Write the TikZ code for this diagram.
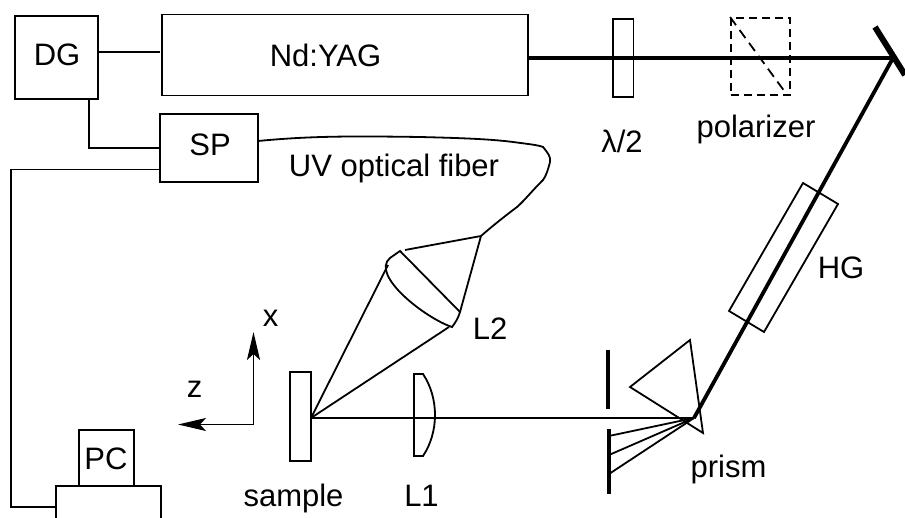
\documentclass[tikz,border=0pt]{standalone}
\usepackage{fontspec}
\setmainfont{Liberation Sans}
\usetikzlibrary{arrows.meta}
\tikzset{
	thinline/.style={line width=1.8pt},
	beam/.style={line width=3.8pt},
	optbox/.style={draw, line width=1.8pt, inner sep=0pt},
	label/.style={inner sep=0pt, anchor=base}
}
\begin{document}
\begin{tikzpicture}[x=1pt, y=-1pt, every node/.append style={font=\fontsize{31}{36}\selectfont}]
	\path[use as bounding box, clip] (0,0) rectangle (905,518);
	\node[optbox, minimum width=83pt, minimum height=83pt] (DG) at (56.5,57.5) {};
	\node[optbox, minimum width=366pt, minimum height=81pt] (YAG) at (345,55) {};
	\node[optbox, minimum width=98pt, minimum height=68pt] (SP) at (209,148) {};
	\node[optbox, minimum width=55pt, minimum height=56pt] (PC) at (106.5,458) {};
	\node[optbox, minimum width=105pt, minimum height=60pt] (PCbase) at (108.5,516) {};
	\node[optbox, minimum width=20.5pt, minimum height=78pt] (WP) at (623.2,58) {};
	\node[optbox, dashed, dash pattern=on 8pt off 5pt, minimum width=59pt, minimum height=77pt] (POL) at (760.5,56.5) {};
	\node[optbox, minimum width=21pt, minimum height=89pt] (SAMPLE) at (300.5,416.5) {};
	\coordinate (F) at (481,236);
	\coordinate (M) at (893,58);
	\coordinate (P) at (694,418);
	\coordinate (S) at (311,418);
	\coordinate (X) at (253.5,332);
	\coordinate (Z) at (178,424.5);
	\coordinate (O) at (253.5,424.5);
	\draw[thinline] (DG.east |- 0,52) -- (160,52);
	\draw[thinline] (89,99) |- (SP.west);
	\draw[thinline] (SP.west |- 0,169.5) -| (11,507) -- (PCbase.west |- 0,507);
	\draw[beam] (YAG.east |- M) -- (M);
	\draw[line width=6pt] (875,27) -- (905,75);
	\draw[beam] (M) -- (P);
	\draw[thinline] (803,183) -- (838,204) -- (764,332) -- (729,311) -- cycle;
	\draw[thinline, dashed, dash pattern=on 10pt off 6pt] (POL.north west) -- (785,92);
	\draw[thinline] (P) -- (S);
	\draw[thinline] (S) -- (388,265);
	\draw[thinline] (S) -- (449,327);
	\draw[thinline] (405,250) -- (F) -- (460,312);
	\draw[thinline] (414,374) -- (423,374) .. controls (439,398) and (439,432) .. (423,456) -- (414,456) -- cycle;
	\draw[thinline] (400,251) -- (460,312) .. controls (458,319) and (455,323) .. (452,327) .. controls (425,318) and (370,275) .. (390,258) -- cycle;
	\draw[thinline] (258,141) .. controls (310,136) and (350,136) .. (420,137) .. controls (460,138) and (490,139) .. (513,142) .. controls (528,144) and (538,145) .. (543,147) .. controls (548,153) and (551,157) .. (550,162) .. controls (548,170) and (546,176) .. (543,180) .. controls (530,193) and (525,200) .. (517,207) .. controls (505,216) and (490,228) .. (F);
	\draw[thinline] (690,340) -- (630,387) -- (703,433) -- cycle;
	\draw[line width=4pt] (607.5,350) -- (607.5,409);
	\draw[line width=4pt] (609,429) -- (609,494);
	\draw[thinline] (P) -- (609,436);
	\draw[thinline] (P) -- (609,455);
	\draw[thinline] (P) -- (609,474);
	\draw[thinline, -{Stealth[length=28pt,width=13pt,inset=6pt]}] (O) -- (X);
	\draw[thinline, -{Stealth[length=28pt,width=13pt,inset=6pt]}] (O) -- (Z);
	\node[label] (DGtext) at (57,66) {DG};
	\node[label] (YAGtext) at (325.5,67) {Nd:YAG};
	\node[label] (SPtext) at (210,156) {SP};
	\node[label] (PCtext) at (106,469) {PC};
	\node[label] (UV) at (394,177) {UV optical fiber};
	\node[label] (HALF) at (622,153) {λ/2};
	\node[label] (POLtext) at (756,138) {polarizer};
	\node[label] (HG) at (841,279) {HG};
	\node[label] (L2) at (490,340) {L2};
	\node[label] (Xtext) at (270.5,327) {x};
	\node[label] (Ztext) at (194.5,398) {z};
	\node[label] (SAMPLEtext) at (293.5,506) {sample};
	\node[label] (L1) at (421.5,506) {L1};
	\node[label] (PRISM) at (728.5,477) {prism};
\end{tikzpicture}
\end{document}
